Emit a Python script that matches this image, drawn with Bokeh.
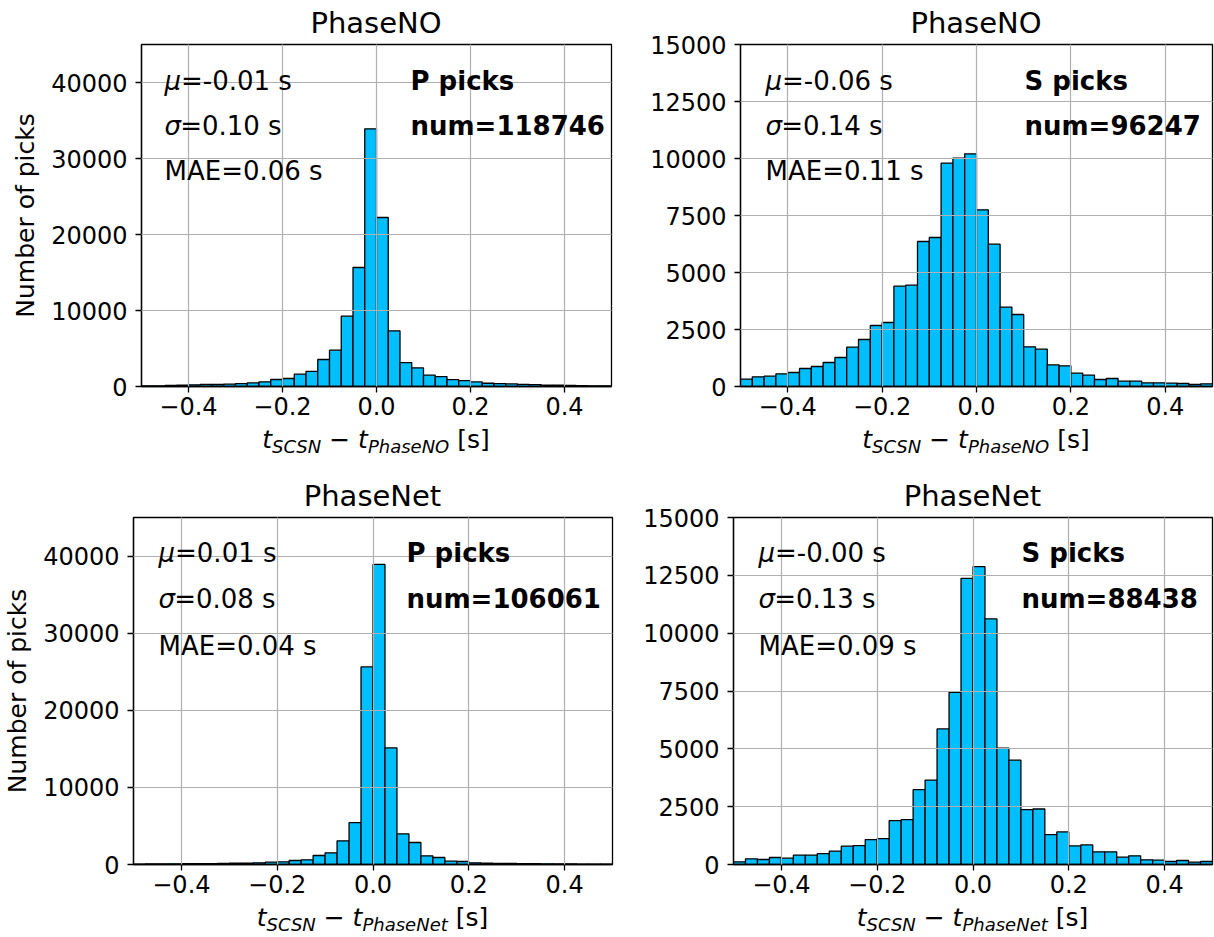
import numpy as np
from bokeh.plotting import figure
from bokeh.models import ColumnDataSource, Label, FixedTicker, Range1d, Div
from bokeh.layouts import column, row
from bokeh.embed import file_html
from bokeh.resources import INLINE

# ---------------- data ----------------
bin_start = -0.5
bin_stop = 0.5
n_bins = 40

# counts per bin (40 bins of 0.025 s from -0.5 to 0.5)
counts_phaseno_p = [90, 90, 130, 175, 220, 260, 260, 300, 390, 480,
                    610, 920, 1050, 1620, 2000, 3550, 4780, 9250, 15660, 33900,
                    22240, 7320, 3140, 2450, 1490, 1300, 900, 780, 600, 430,
                    390, 340, 290, 250, 175, 170, 130, 125, 90, 90]
counts_phaseno_s = [322, 424, 453, 556, 614, 789, 877, 1053, 1272, 1725,
                    2061, 2675, 2807, 4400, 4444, 6360, 6535, 9795, 10015, 10205,
                    7749, 6243, 3480, 3158, 1740, 1637, 950, 906, 585, 497,
                    307, 351, 234, 234, 161, 161, 146, 132, 88, 117]
counts_phasenet_p = [60, 70, 80, 90, 100, 110, 120, 140, 160, 180,
                     216, 302, 346, 518, 605, 1166, 1512, 3067, 5443, 25616,
                     38920, 15120, 3974, 2851, 1123, 907, 432, 389, 216, 173,
                     150, 130, 110, 100, 90, 80, 70, 60, 50, 50]
counts_phasenet_s = [115, 244, 216, 302, 273, 402, 402, 474, 575, 790,
                     819, 1078, 1121, 1897, 1940, 3233, 3649, 5862, 7443, 12371,
                     12874, 10618, 5029, 4511, 2371, 2399, 1293, 1408, 805, 848,
                     546, 546, 316, 374, 201, 187, 129, 172, 101, 129]

titles = ["PhaseNO", "PhaseNO", "PhaseNet", "PhaseNet"]
models = ["PhaseNO", "PhaseNO", "PhaseNet", "PhaseNet"]
phase_labels = ["P picks", "S picks", "P picks", "S picks"]
num_picks = [118746, 96247, 106061, 88438]
mu_values = ["-0.01", "-0.06", "0.01", "-0.00"]
sigma_values = ["0.10", "0.14", "0.08", "0.13"]
mae_values = ["0.06", "0.11", "0.04", "0.09"]

xticks = [-0.4, -0.2, 0.0, 0.2, 0.4]
xtick_labels = ["\u22120.4", "\u22120.2", "0.0", "0.2", "0.4"]
yticks_p = [0, 10000, 20000, 30000, 40000]
yticks_s = [0, 2500, 5000, 7500, 10000, 12500, 15000]
ymax_p = 45000
ymax_s = 15000
ylabel = "Number of picks"

# ---------------- styling / layout ----------------
FONT = "DejaVu Sans"
BAR = "#00BFFF"
GRID = "#b0b0b0"
ANN_SIZE = 26

# (left border, frame width, right border, top border, frame height, bottom border)
geoms = [(141, 470, 29, 14, 342, 42),
         (100, 472, 2, 14, 342, 42),
         (133, 479, 28, 14, 347, 42),
         (93, 479, 2, 14, 347, 42)]
# title div (height, padding-top) per panel: baseline 33 px (top) / 36 px (bottom) below div top
title_div = [(30, 6), (30, 6), (33, 9), (33, 9)]
xlabel_div_h = [42, 42, 31, 31]
# annotation positions: left text x, right text x, baselines from frame top
left_x = [23, 25, 25, 25]
right_x = [269, 284, 273, 288]
baselines_top = [(36, 81, 126), (36, 81, 126), (35, 81.5, 128), (35, 81.5, 128)]

edges = np.linspace(bin_start, bin_stop, n_bins + 1)
all_counts = [counts_phaseno_p, counts_phaseno_s, counts_phasenet_p, counts_phasenet_s]

PAD = 6


def add_text(p, x, y, text, style="normal"):
    p.add_layout(Label(x=x, y=y, x_units="screen", y_units="screen", text=text,
                       text_font=FONT, text_font_size=f"{ANN_SIZE}px", text_font_style=style,
                       text_color="black", text_baseline="alphabetic", text_align="left"))


def add_box(p, x, y, text, style="normal"):
    # white box behind a line of text (text itself transparent)
    p.add_layout(Label(x=x - PAD, y=y + PAD + 4, x_units="screen", y_units="screen", text=text,
                       text_font=FONT, text_font_size=f"{ANN_SIZE}px", text_font_style=style,
                       text_alpha=0.0, text_baseline="alphabetic", text_align="left",
                       background_fill_color="white", background_fill_alpha=1.0,
                       padding=PAD))


def make_panel(i):
    lb, fw, rb, tb, fh, bb = geoms[i]
    is_p = (i % 2 == 0)
    ymax = ymax_p if is_p else ymax_s
    yticks = yticks_p if is_p else yticks_s
    p = figure(frame_width=fw, frame_height=fh,
               min_border_left=lb, min_border_right=rb,
               min_border_top=tb, min_border_bottom=bb,
               x_range=Range1d(bin_start, bin_stop), y_range=Range1d(0, ymax),
               output_backend="svg", toolbar_location=None, title=None)
    p.background_fill_color = "white"
    p.border_fill_alpha = 0.0
    p.outline_line_color = "black"
    p.outline_line_width = 1.3

    src = ColumnDataSource(dict(left=edges[:-1], right=edges[1:], top=all_counts[i]))
    p.quad(left="left", right="right", bottom=0, top="top", source=src,
           fill_color=BAR, line_color="black", line_width=1.3)

    p.xaxis.ticker = FixedTicker(ticks=xticks)
    p.xaxis.major_label_overrides = {t: s for t, s in zip(xticks, xtick_labels)}
    p.yaxis.ticker = FixedTicker(ticks=yticks)
    for ax in (p.xaxis[0], p.yaxis[0]):
        ax.major_label_text_font = FONT
        ax.major_label_text_font_size = "24px"
        ax.major_label_text_color = "black"
        ax.axis_line_color = "black"
        ax.axis_line_width = 1.3
        ax.major_tick_line_color = "black"
        ax.major_tick_line_width = 1.3
        ax.major_tick_out = 6
        ax.major_tick_in = 0
        ax.minor_tick_line_color = None
    p.xaxis.major_label_standoff = 4
    p.yaxis.major_label_standoff = 8
    if i % 2 == 0:
        p.yaxis.axis_label = ylabel
        p.yaxis.axis_label_text_font = FONT
        p.yaxis.axis_label_text_font_size = "25px"
        p.yaxis.axis_label_text_font_style = "normal"
        p.yaxis.axis_label_text_color = "black"
        p.yaxis.axis_label_standoff = 8

    p.grid.grid_line_color = GRID
    p.grid.grid_line_width = 1.2
    p.grid.level = "guide"

    # statistics boxes
    b1, b2, b3 = baselines_top[i]
    y1, y2, y3 = fh - b1, fh - b2, fh - b3
    lx = left_x[i]
    line_mu = "=" + mu_values[i] + " s"
    line_sigma = "=" + sigma_values[i] + " s"
    line_mae = "MAE=" + mae_values[i] + " s"
    add_box(p, lx, y1, "\u03bc" + line_mu)
    add_box(p, lx, y2, "\u03c3" + line_sigma)
    add_box(p, lx, y3, line_mae)
    add_text(p, lx, y1, "\u03bc", style="italic")
    add_text(p, lx + 0.636 * ANN_SIZE, y1, line_mu)
    add_text(p, lx, y2, "\u03c3", style="italic")
    add_text(p, lx + 0.602 * ANN_SIZE, y2, line_sigma)
    add_text(p, lx, y3, line_mae)

    rx = right_x[i]
    line_phase = phase_labels[i]
    line_num = "num=" + str(num_picks[i])
    add_box(p, rx, y1, line_phase, style="bold")
    add_box(p, rx, y2, line_num, style="bold")
    add_text(p, rx, y1, line_phase, style="bold")
    add_text(p, rx, y2, line_num, style="bold")
    return p


def make_title(i):
    lb, fw, rb, tb, fh, bb = geoms[i]
    h, pt = title_div[i]
    html = (f'<div style="width:{fw}px;margin-left:{lb}px;padding-top:{pt}px;text-align:center;'
            f'white-space:nowrap;font-family:\'DejaVu Sans\';font-size:29px;line-height:34px;'
            f'color:black;">{titles[i]}</div>')
    return Div(text=html, width=lb + fw + rb, height=h, margin=0,
               styles={"overflow": "visible", "z-index": "5"})


def make_xlabel(i):
    lb, fw, rb, tb, fh, bb = geoms[i]
    sub = "font-size:18px;font-style:italic;position:relative;top:5px;"
    html = (
        f'<div style="width:{fw}px;margin-left:{lb}px;text-align:center;white-space:nowrap;'
        f'font-family:\'DejaVu Sans\';font-size:25px;line-height:24px;color:black;">'
        f'<i>t</i><span style="{sub}">SCSN</span> \u2212 '
        f'<i>t</i><span style="{sub}">{models[i]}</span> [s]</div>'
    )
    return Div(text=html, width=lb + fw + rb, height=xlabel_div_h[i], margin=0)


panels = [make_panel(i) for i in range(4)]
title_divs = [make_title(i) for i in range(4)]
xlabels = [make_xlabel(i) for i in range(4)]
layout = column(
    row(title_divs[0], title_divs[1], spacing=0),
    row(panels[0], panels[1], spacing=0),
    row(xlabels[0], xlabels[1], spacing=0),
    row(title_divs[2], title_divs[3], spacing=0),
    row(panels[2], panels[3], spacing=0),
    row(xlabels[2], xlabels[3], spacing=0),
    spacing=0,
)

open("out.html", "w").write(file_html(layout, INLINE))
